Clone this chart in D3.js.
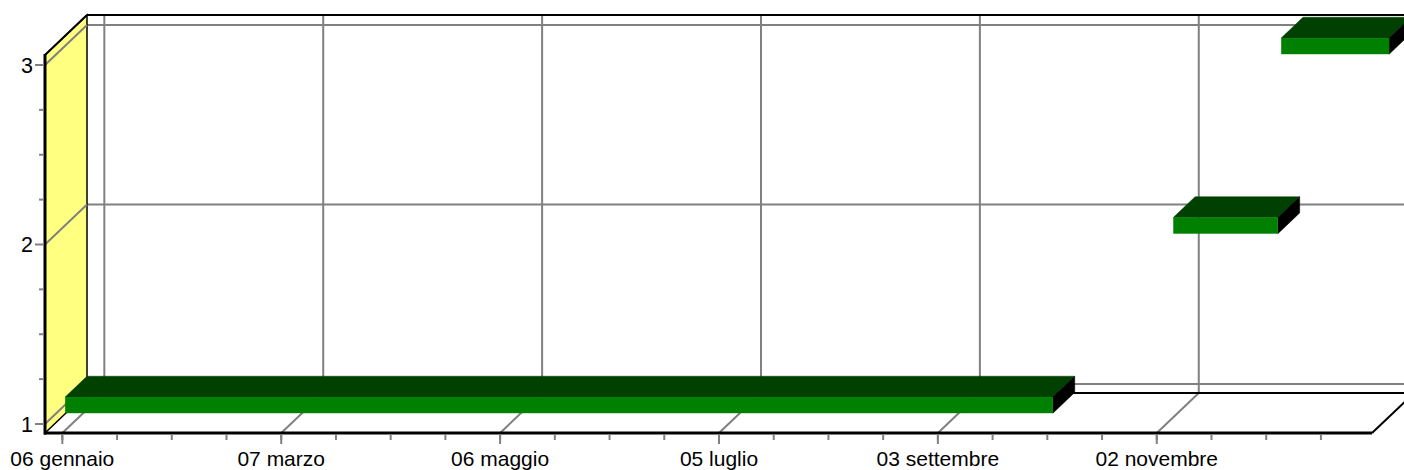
<!DOCTYPE html>
<html><head><meta charset="utf-8">
<script src="https://cdn.jsdelivr.net/npm/d3@7"></script>
<style>body{margin:0;background:#fff}svg{display:block;font-family:"Liberation Sans",Arial,sans-serif}</style>
</head><body><svg id="c" width="1404" height="470"></svg>
<script>
// ---- data ----
const majorTickDates = ["2023-01-06","2023-03-07","2023-05-06","2023-07-05","2023-09-03","2023-11-02"];
const majorTickLabels = ["06 gennaio","07 marzo","06 maggio","05 luglio","03 settembre","02 novembre"];
const yTickValues = [1, 2, 3];
const segStart = ["2023-01-03T16:00","2023-11-03T10:00","2023-12-03T00:00"];
const segEnd   = ["2023-10-01T10:00","2023-12-02T02:00","2024-01-01T14:00"];
const segValue = [1, 2, 3];

// ---- layout ----
const W = 1404, H = 470;
const DX = 42, DY = -40;          // full depth projection
const Z1 = 0.27, Z2 = 0.79;       // bar depth range
const BAR_T = 0.09;               // bar thickness in value units
const pd = d3.timeParse("%Y-%m-%d"), pt = d3.timeParse("%Y-%m-%dT%H:%M");
const x = d3.scaleTime().domain([pd("2023-01-01"), pd("2023-12-31")]).range([44.1, 1372]);
const y = d3.scaleLinear().domain([1, 3]).range([424, 65]);
const xL = 45, xR = x.range()[1], yB = 433, yT = 55;

const svg = d3.select("#c");
const grid = "#808080";
const line = (g, x1, y1, x2, y2, c, w) => g.append("line").attr("x1", x1).attr("y1", y1).attr("x2", x2).attr("y2", y2).attr("stroke", c).attr("stroke-width", w);

// back wall gridlines
const back = svg.append("g");
yTickValues.forEach(v => line(back, xL + DX, y(v) + DY, W + 20, y(v) + DY, grid, 2));
const majors = majorTickDates.map(pd);
majors.forEach(d => line(back, x(d) + DX, yT + DY, x(d) + DX, yB + DY, grid, 2));

// floor
svg.append("polygon").attr("points", [[xL, yB], [xR, yB], [xR + DX, yB + DY], [xL + DX, yB + DY]].join(" "))
  .attr("fill", "#fff").attr("stroke", "none");
majors.forEach(d => line(svg, x(d), yB, x(d) + DX, yB + DY, grid, 2));
line(svg, xL + DX, yB + DY, xR + DX, yB + DY, "#000", 2);
line(svg, xR, yB, xR + DX, yB + DY, "#000", 2);

// left wall
svg.append("polygon").attr("points", [[xL, yT], [xL + DX, yT + DY], [xL + DX, yB + DY], [xL, yB]].join(" "))
  .attr("fill", "#ffff80").attr("stroke", "#000").attr("stroke-width", 1.5);
yTickValues.forEach(v => line(svg, xL, y(v), xL + DX, y(v) + DY, grid, 2));

// top edge
line(svg, xL + DX, yT + DY, W + 20, yT + DY, "#000", 2);
line(svg, xL, yT, xL + DX, yT + DY, "#000", 2);

// bars
const bars = svg.append("g");
segValue.forEach((v, i) => {
  const xa = x(pt(segStart[i])), xb = x(pt(segEnd[i]));
  const yb = y(v), yt = y(v + BAR_T);
  const ax = DX * Z1, ay = DY * Z1, bx = DX * Z2, by = DY * Z2;
  bars.append("polygon").attr("points", [[xa + ax, yt + ay], [xb + ax, yt + ay], [xb + bx, yt + by], [xa + bx, yt + by]].join(" "))
    .attr("fill", "#004000").attr("stroke", "#004000").attr("stroke-width", 0.5);
  bars.append("polygon").attr("points", [[xb + ax, yt + ay], [xb + bx, yt + by], [xb + bx, yb + by], [xb + ax, yb + ay]].join(" "))
    .attr("fill", "#000").attr("stroke", "#000").attr("stroke-width", 0.5);
  bars.append("rect").attr("x", xa + ax).attr("y", yt + ay).attr("width", xb - xa).attr("height", yb - yt)
    .attr("fill", "#008000");
});

// front axis lines
line(svg, xL, yT - 1, xL, yB + 1.5, "#000", 3);
line(svg, xL - 1, yB, xR, yB, "#000", 3);

// x ticks
const minor = d3.range(0, 24).map(k => d3.timeDay.offset(majors[0], 15 * k));
minor.forEach(d => line(svg, x(d), yB + 1, x(d), yB + 7, grid, 2));
majors.forEach(d => line(svg, x(d), yB + 1, x(d), yB + 11, grid, 2));
svg.append("g").selectAll("text").data(majors).join("text")
  .attr("x", d => x(d)).attr("y", 465.5).attr("text-anchor", "middle")
  .attr("font-size", 21).attr("fill", "#000")
  .text((d, i) => majorTickLabels[i]);

// y ticks
d3.range(1, 3.01, 0.25).forEach(v => {
  const major = yTickValues.includes(v);
  line(svg, major ? xL - 10 : xL - 6, y(v), xL - 1, y(v), grid, 2);
});
svg.append("g").selectAll("text").data(yTickValues).join("text")
  .attr("x", 33).attr("y", v => y(v) + 7.5).attr("text-anchor", "end")
  .attr("font-size", 21.5).attr("fill", "#000").text(v => v);
</script></body></html>
